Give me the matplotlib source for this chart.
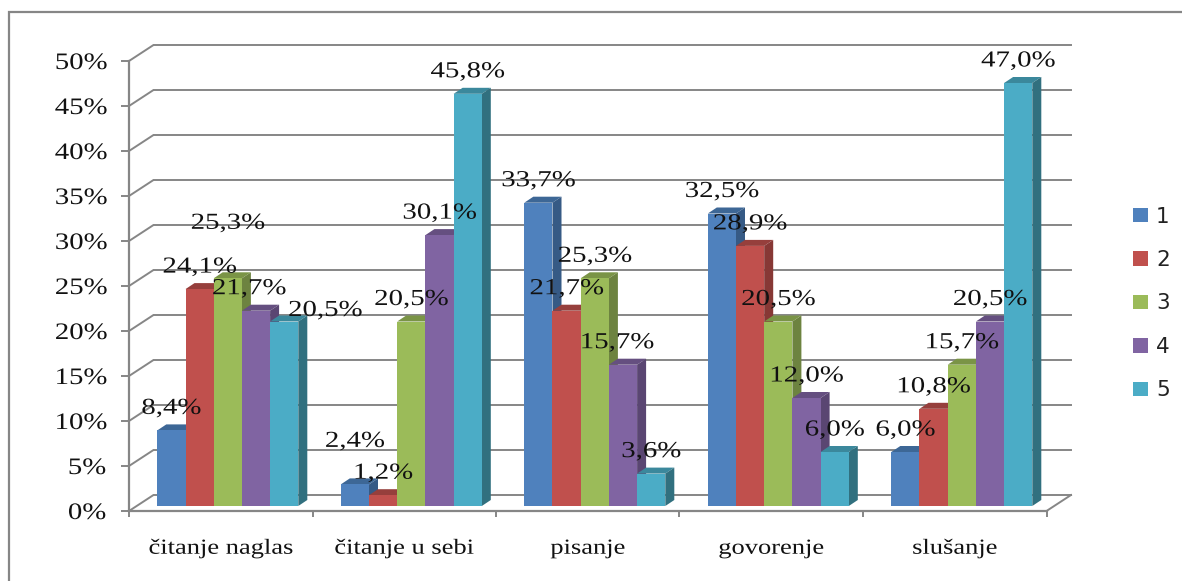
import numpy as np
import matplotlib
matplotlib.use('Agg')
import matplotlib.pyplot as plt
import matplotlib.patheffects as pe
from matplotlib.lines import Line2D
from matplotlib.transforms import Affine2D

# ------------------ DATOS ------------------
kategorije = ['čitanje naglas', 'čitanje u sebi', 'pisanje', 'govorenje', 'slušanje']
serije = ['1', '2', '3', '4', '5']

ocjena_1 = [8.4, 2.4, 33.7, 32.5, 6.0]
ocjena_2 = [24.1, 1.2, 21.7, 28.9, 10.8]
ocjena_3 = [25.3, 20.5, 25.3, 20.5, 15.7]
ocjena_4 = [21.7, 30.1, 15.7, 12.0, 20.5]
ocjena_5 = [20.5, 45.8, 3.6, 6.0, 47.0]
vrijednosti = [ocjena_1, ocjena_2, ocjena_3, ocjena_4, ocjena_5]

boje = ['#4F81BD', '#C0504D', '#9BBB59', '#8064A2', '#4BACC6']
boje_gore = ['#3D6796', '#963F3C', '#7A9446', '#654F80', '#3B889C']
boje_strana = ['#365A85', '#873835', '#6D8340', '#5A4672', '#31707F']

# labels dragged away from their default spot: (series, category): (dx, dy) in px
pomak_natpisa = {(2, 0): (0, 33), (3, 0): (-7, 0), (4, 0): (41, -11),
                 (0, 1): (0, 21), (3, 2): (-6, 0)}

W, H = 1182, 581
LEFT, RIGHT, Y0, Y50 = 129, 1046.5, 511, 61
GRID = '#868686'

px_x = 5 / (RIGHT - LEFT)   # one pixel in x data units
px_y = 50 / (Y0 - Y50)      # one pixel in y data units


class Razvuci(pe.AbstractPathEffect):
    """Stretch glyphs horizontally around the middle of the text."""

    def __init__(self, k):
        super().__init__()
        self.k = k

    def draw_path(self, renderer, gc, tpath, affine, rgbFace=None):
        e = tpath.get_extents()
        cx = (e.x0 + e.x1) / 2
        t = Affine2D().translate(-cx, 0).scale(self.k, 1).translate(cx, 0)
        renderer.draw_path(gc, tpath, t + affine, rgbFace)


fig = plt.figure(figsize=(W / 100, H / 100), dpi=100)
ax = fig.add_axes([LEFT / W, 1 - Y0 / H, (RIGHT - LEFT) / W, (Y0 - Y50) / H])
ax.set_xlim(0, 5)
ax.set_ylim(0, 50)
ax.patch.set_visible(False)

# outer frame: only the left and top edges show
fig.add_artist(Line2D([1, 9.5 / W, 9.5 / W], [1 - 12 / H, 1 - 12 / H, 0], transform=fig.transFigure,
                      color=GRID, lw=1.6, solid_joinstyle='miter'))

# back and side walls
zid_x = 24.5 * px_x
zid_y = 16 * px_y
for v in range(0, 55, 5):
    ax.plot([0, zid_x, 5 + zid_x], [v, v + zid_y, v + zid_y], color=GRID, lw=1.4,
            clip_on=False, zorder=1, solid_joinstyle='miter')
ax.plot([5, 5 + zid_x], [0, zid_y], color=GRID, lw=1.4, clip_on=False, zorder=1)

# bars: front face from ax.bar, top and right side as extra polygons
sirina = 28.2 * px_x
dub_x = 9 * px_x
dub_y = 6 * px_y
baza = 5 * px_y
prvi = 28.3 * px_x
korak = np.arange(len(kategorije))

for s, vals in enumerate(vrijednosti):
    x_l = korak + prvi + s * sirina
    ax.bar(x_l, vals, sirina, bottom=baza, align='edge', color=boje[s], label=serije[s],
           clip_on=False, zorder=3 + 2 * s)
    for k, (xx, v) in enumerate(zip(x_l, vals)):
        vrh = baza + v
        ax.fill([xx, xx + sirina, xx + sirina + dub_x, xx + dub_x],
                [vrh, vrh, vrh + dub_y, vrh + dub_y], color=boje_gore[s], lw=0,
                clip_on=False, zorder=2 + 2 * s)
        ax.fill([xx + sirina, xx + sirina + dub_x, xx + sirina + dub_x, xx + sirina],
                [baza, baza + dub_y, vrh + dub_y, vrh], color=boje_strana[s], lw=0,
                clip_on=False, zorder=2 + 2 * s)
        dx, dy = pomak_natpisa.get((s, k), (0, 0))
        ax.annotate(f'{v:.1f}%'.replace('.', ','),
                    (xx + sirina / 2, vrh), xytext=(dx, 22 + dy),
                    textcoords='offset pixels', ha='center', va='center',
                    family='Liberation Serif', fontsize=16.5, color='#111111',
                    path_effects=[Razvuci(1.26)], zorder=30, annotation_clip=False)

# axes
for side in ['top', 'right']:
    ax.spines[side].set_visible(False)
for side in ['left', 'bottom']:
    ax.spines[side].set_color(GRID)
    ax.spines[side].set_linewidth(1.6)

ax.set_yticks(range(0, 55, 5))
ax.set_yticklabels([f'{v}%' for v in range(0, 55, 5)], family='Liberation Serif',
                   fontsize=17, color='#111111', path_effects=[Razvuci(1.22)])
ax.tick_params(axis='y', length=5.5, width=1.4, color=GRID, pad=13.5)
ax.set_xticks(range(6))
ax.set_xticklabels([])
ax.tick_params(axis='x', which='major', length=4, width=1.4, color=GRID)
ax.set_xticks(korak + 0.5, minor=True)
ax.set_xticklabels(kategorije, minor=True, family='Liberation Serif', fontsize=15.5,
                   color='#111111', path_effects=[Razvuci(1.23)])
ax.tick_params(axis='x', which='minor', length=0, pad=20.7)

ax.legend(loc='upper left', bbox_to_anchor=(1.0943, 0.6766), frameon=False, fontsize=15.5,
          handlelength=0.7, handleheight=0.66, handletextpad=0.37, labelspacing=1.09,
          labelcolor='#222222', borderaxespad=0, borderpad=0)

fig.savefig('out.png', dpi=100)
